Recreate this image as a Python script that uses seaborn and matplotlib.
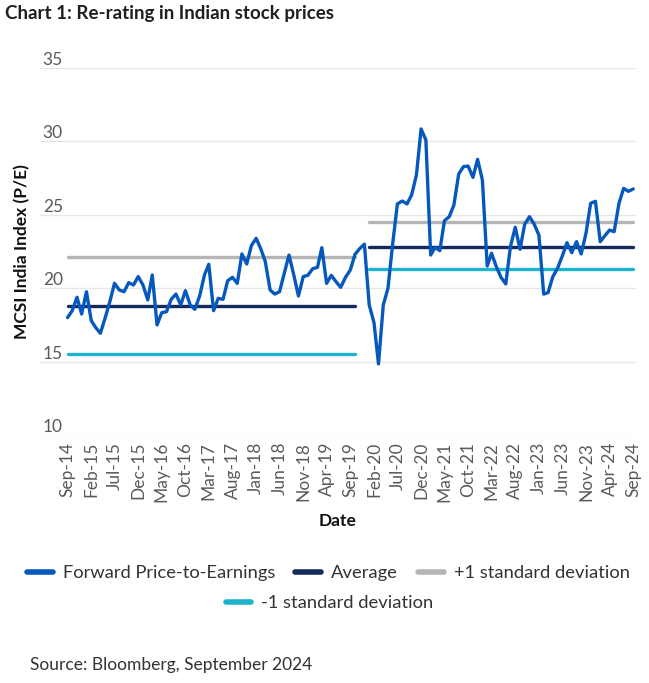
import matplotlib
matplotlib.use("Agg")
import matplotlib.pyplot as plt
import seaborn as sns
import pandas as pd
from matplotlib.lines import Line2D

# ---------------- data ----------------
dates = pd.date_range("2014-09-01", periods=121, freq="MS")

pe = [18.0, 18.47, 19.38, 18.24, 19.76, 17.79, 17.33, 16.93, 17.95, 19.08,
      20.33, 19.88, 19.76, 20.38, 20.22, 20.79, 20.22, 19.20, 20.9, 17.5,
      18.33, 18.40, 19.24, 19.6, 18.86, 19.83, 18.86, 18.56, 19.47, 20.9,
      21.63, 18.47, 19.31, 19.24, 20.51, 20.74, 20.33, 22.33, 21.65, 22.9,
      23.4, 22.65, 21.81, 19.88, 19.6, 19.76, 21.0, 22.26, 20.9, 19.47,
      20.79, 20.88, 21.33, 21.42, 22.76, 20.33, 20.88, 20.44, 20.06, 20.74,
      21.24, 22.3, 22.7, 23.0, 18.86, 17.65, 14.84, 18.86, 19.99, 23.06,
      25.74, 25.94, 25.74, 26.35, 27.71, 30.85, 30.1, 22.26, 22.78, 22.56,
      24.6, 24.87, 25.67, 27.78, 28.28, 28.32, 27.55, 28.78, 27.37, 21.51,
      22.38, 21.47, 20.74, 20.29, 22.83, 24.15, 22.65, 24.35, 24.87, 24.37,
      23.62, 19.6, 19.7, 20.79, 21.35, 22.19, 23.1, 22.42, 23.17, 22.33,
      23.74, 25.78, 25.92, 23.17, 23.56, 23.96, 23.85, 25.78, 26.8, 26.6, 26.76]

# reference levels for the two periods (pre-2020 and post-2020)
period_start = [0, 64]
period_end = [61, 120]
avg_levels = [18.8, 22.8]
up_levels = [22.15, 24.5]
lo_levels = [15.5, 21.3]

series_names = ["Forward Price-to-Earnings", "Average",
                "+1 standard deviation", "-1 standard deviation"]

xtick_labels = ["Sep-14", "Feb-15", "Jul-15", "Dec-15", "May-16", "Oct-16",
                "Mar-17", "Aug-17", "Jan-18", "Jun-18", "Nov-18", "Apr-19",
                "Sep-19", "Feb-20", "Jul-20", "Dec-20", "May-21", "Oct-21",
                "Mar-22", "Aug-22", "Jan-23", "Jun-23", "Nov-23", "Apr-24",
                "Sep-24"]
yticks = [10, 15, 20, 25, 30, 35]

# ---------------- styling ----------------
BLUE = "#0658bd"
NAVY = "#14295c"
GRAY = "#b5b5b5"
CYAN = "#1db3cc"
colors = {series_names[0]: BLUE, series_names[1]: NAVY,
          series_names[2]: GRAY, series_names[3]: CYAN}

sns.set_theme(style="white")
plt.rcParams["font.family"] = ["Lato", "DejaVu Sans"]

# long table of reference lines
rows = []
for p in range(2):
    for d in dates[period_start[p]:period_end[p] + 1]:
        rows.append((d, avg_levels[p], series_names[1], p))
        rows.append((d, up_levels[p], series_names[2], p))
        rows.append((d, lo_levels[p], series_names[3], p))
ref = pd.DataFrame(rows, columns=["date", "value", "series", "period"])
main = pd.DataFrame({"date": dates, "value": pe})

fig = plt.figure(figsize=(6.49, 6.83), dpi=100)
ax = fig.add_axes([40 / 649, 1 - 435 / 683, (636 - 40) / 649, (435 - 68) / 683])

sns.lineplot(data=ref, x="date", y="value", hue="series", units="period",
             estimator=None, palette=colors, lw=2.4, legend=False, ax=ax,
             zorder=3)
sns.lineplot(data=main, x="date", y="value", color=BLUE, lw=2.4, ax=ax,
             zorder=5)

ax.set_ylim(10, 35)
ax.set_yticks(yticks)
ax.set_yticklabels([str(v) for v in yticks])
ax.set_xticks(dates[::5])
ax.set_xticklabels(xtick_labels, rotation=90)
ax.set_xlim(dates[0] - pd.Timedelta(days=178), dates[-1] + pd.Timedelta(days=18))

ax.grid(axis="y", color="#e6e6e6", lw=1.0)
ax.grid(axis="x", visible=False)
for s in ax.spines.values():
    s.set_visible(False)

ax.tick_params(axis="y", length=0, pad=-2, labelsize=12.5, labelcolor="#5a5a5a")
ax.tick_params(axis="x", length=0, pad=5, labelsize=12.5, labelcolor="#5a5a5a")
for lab in ax.get_yticklabels():
    lab.set_horizontalalignment("left")
    lab.set_verticalalignment("bottom")

ax.set_xlabel("Date", fontsize=12.5, fontweight="bold", color="#111111", labelpad=8)
ax.set_ylabel("MCSI India Index (P/E)", fontsize=12.5, fontweight="bold",
              color="#111111", labelpad=7)

fig.text(5 / 649, 1 - 14 / 683, "Chart 1: Re-rating in Indian stock prices",
         fontsize=13.5, fontweight="bold", color="#1f1f1f", va="center", ha="left")
fig.text(30 / 649, 1 - 665 / 683, "Source: Bloomberg, September 2024",
         fontsize=12.5, color="#333333", va="center", ha="left")

handles = [Line2D([0], [0], color=colors[n], lw=4) for n in series_names]
leg1 = fig.legend(handles[:3], series_names[:3], loc="center",
                  bbox_to_anchor=(0.506, 1 - 573 / 683), ncol=3, frameon=False,
                  fontsize=13.2, handlelength=1.4, handletextpad=0.55,
                  columnspacing=1.1)
for t in leg1.get_texts():
    t.set_color("#333333")
leg2 = fig.legend(handles[3:], series_names[3:], loc="center",
                  bbox_to_anchor=(0.508, 1 - 603 / 683), ncol=1, frameon=False,
                  fontsize=13.2, handlelength=1.4, handletextpad=0.55)
for t in leg2.get_texts():
    t.set_color("#333333")

fig.savefig("out.png", dpi=100)
